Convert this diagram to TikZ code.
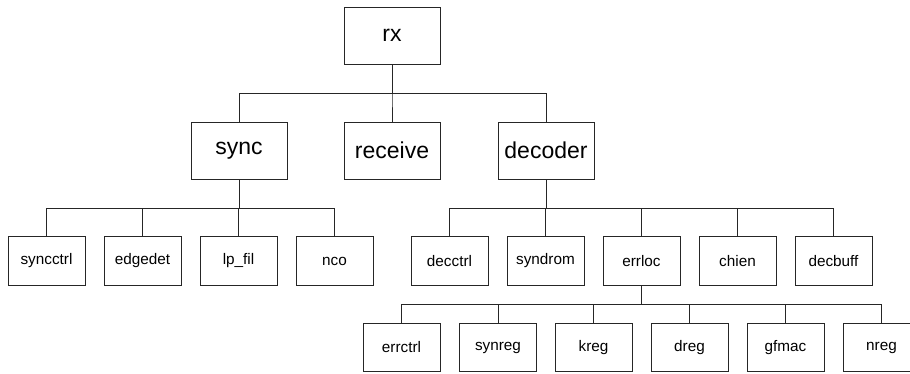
\documentclass[tikz,border=0pt]{standalone}
\usepackage{fontspec}
\setmainfont{Liberation Sans}
\begin{document}
\begin{tikzpicture}[x=1pt,y=-1pt,
  line width=0.8pt,
  bigbox/.style={draw=black!85, fill=white, minimum width=96pt, minimum height=57pt,
    inner sep=1pt, font=\fontsize{23}{26}\selectfont},
  smallbox/.style={draw=black!85, fill=white, minimum width=77pt, minimum height=48.5pt,
    inner sep=1pt, font=\fontsize{15.3}{18}\selectfont},
  link/.style={draw=black!85}]
\useasboundingbox (0,0) rectangle (910,374);

% top level
\node[bigbox] (rx) at (392,35.5) {rx};

% second level
\node[bigbox] (sync)    at (239,150.5) {sync};
\node[bigbox] (receive) at (392,150.5) {receive};
\node[bigbox] (decoder) at (546,150.5) {decoder};

% children of sync
\node[smallbox] (syncctrl) at (46.5,261)  {syncctrl};
\node[smallbox] (edgedet)  at (142.5,261) {edgedet};
\node[smallbox] (lpfil)    at (238.5,261) {lp\_fil};
\node[smallbox] (nco)      at (334.5,261) {nco};

% children of decoder
\node[smallbox] (decctrl) at (449.5,261) {decctrl};
\node[smallbox] (syndrom) at (545.5,261) {syndrom};
\node[smallbox] (errloc)  at (641.5,261) {errloc};
\node[smallbox] (chien)   at (737.5,261) {chien};
\node[smallbox] (decbuff) at (833.5,261) {decbuff};

% children of errloc
\node[smallbox] (errctrl) at (401.5,347.5) {errctrl};
\node[smallbox] (synreg)  at (498,347.5)   {synreg};
\node[smallbox] (kreg)    at (593.5,347.5) {kreg};
\node[smallbox] (dreg)    at (689.5,347.5) {dreg};
\node[smallbox] (gfmac)   at (785.5,347.5) {gfmac};
\node[smallbox] (nreg)    at (881.5,347.5) {nreg};

% bus heights
\coordinate (busA) at (0,93);
\coordinate (busB) at (0,208);
\coordinate (busC) at (0,304);

% tree connectors
\foreach \c in {sync,receive,decoder}
  \draw[link] (rx.south) -- (rx.south |- busA) -| (\c.north);
\foreach \c in {syncctrl,edgedet,lpfil,nco}
  \draw[link] (sync.south) -- (sync.south |- busB) -| (\c.north);
\foreach \c in {decctrl,syndrom,errloc,chien,decbuff}
  \draw[link] (decoder.south) -- (decoder.south |- busB) -| (\c.north);
\foreach \c in {errctrl,synreg,kreg,dreg,gfmac,nreg}
  \draw[link] (errloc.south) -- (errloc.south |- busC) -| (\c.north);
\end{tikzpicture}
\end{document}
